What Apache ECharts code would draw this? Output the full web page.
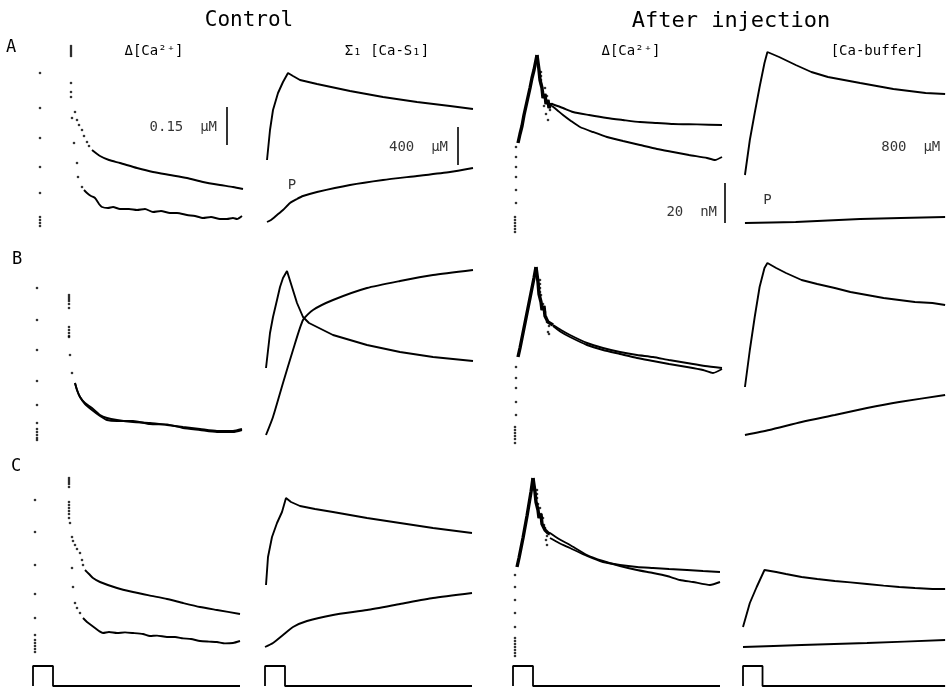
<!DOCTYPE html>
<html>
<head>
<meta charset="utf-8">
<title>Ca transients: control and after buffer injection</title>
<script src="https://cdn.jsdelivr.net/npm/echarts@6/dist/echarts.min.js"></script>
<style>
  html, body { margin: 0; padding: 0; background: #fff; }
  #chart { width: 950px; height: 687px; }
</style>
</head>
<body>
<div id="chart"></div>
<script>
// ---- labels ----
const columnTitles = ['Control', 'After injection'];
const rowLabels = ['A', 'B', 'C'];
const panelTitles = ['Δ[Ca²⁺]', 'Σ₁ [Ca-S₁]', 'Δ[Ca²⁺]', '[Ca-buffer]'];
const scaleLabels = ['0.15  μM', '400  μM', '20  nM', '800  μM'];
const traceLabel = 'P';

// ---- data: [time (ms), signal (% of panel range)] ----
// Row A, control, free Ca
const caCtrlA_dots = [[3.5,78.5],[3.5,61],[3.5,46],[3.5,31.5],[3.5,18.5],[3.5,6.5],[3.5,5],[3.5,3.5],[3.5,2],
  [19,92],[19,91],[19,90],[19,89],[19,88],[19,87],[19,73.5],[19,69],[19,66.5],[19.5,56],[21,59],
  [22,55],[23,52.5],[24.5,50],[25.5,47],[27,44],[28,42],
  [20.5,43.5],[22,33.5],[22.5,26.5],[24.5,21.5]];
const caCtrlA_upper = [[29.5,40],[33.5,37],[38,35],[43.5,33.5],[52,31],[60,29],[68.5,27.5],[77,26],[85,24],[93.5,22.5],[100,21.5],[105,20.5]];
const caCtrlA_lower = [[25.5,20],[27,18.5],[29,17],[31,16],[33,13],[34.5,11.5],[37.5,11],[40,11.5],[43.5,10.5],[48,10.5],[52,10],[56,10.5],[60,9],[64,9.5],[68.5,8.5],[72,8.5],[77,7.5],[81,7],[85,6],[89,6.5],[93.5,5.5],[97,5.5],[100,6],[102,5.5],[104.5,7]];
// Row A, control, Ca bound to S1
const caSCtrlA_total = [[1,35],[2.5,50],[4,60],[6.5,68.5],[9,74],[11.5,78.5],[14,77],[17.5,75],[26,73],[42.5,69.5],[59,66.5],[76,64],[92.5,62],[104,60.5]];
const caSCtrlA_P = [[1,4],[3,5],[6,7.5],[9,10],[12.5,13.5],[16,15.5],[19,17],[26,19],[42.5,22.5],[59,25],[76,27],[92.5,29],[104,31]];
// Row A, after injection, free Ca
const caInjA_dots = [[1,6.5],[1,5],[1,3.5],[1,2],[1,0.5],[1,-1],[1.5,13.5],[1.5,20],[1.5,26.5],[1.5,31.5],[1.5,36.5],[1.5,41.5],
  [14,79],[14,77],[14,75],[14,73],[15,69],[16,66],[17.5,64],[18.5,60],[17.5,55],[16.5,58],[15.5,62],[17,67],[18,63.5],[16,71]];
const caInjA_rise = [[2.5,43.5],[3.5,48],[4.5,52],[5.5,57.5],[6.5,62],[7.5,66.5],[8.5,71],[9.5,76],[10.5,80],[11.5,85],[12,87.5]];
const caInjA_cluster = [[12,87.5],[13,80],[13.5,75],[14.5,71],[15,66],[16,68],[16.5,63],[17.5,65],[18,61],[19,63],[19.5,62.5]];
const caInjA_upper = [[19.5,63],[25,61],[30,59],[38,57.5],[47,56],[55,55],[63.5,54],[72,53.5],[80,53],[92,52.8],[104.5,52.5]];
const caInjA_lower = [[19.5,62],[22,60],[25,57.5],[29,54.5],[33.5,51.5],[40,49],[47,46.5],[55,44.5],[63.5,42.5],[72,40.5],[80,39],[88,37.5],[97,36],[101,35],[104.5,36.5]];
// Row A, after injection, Ca-buffer
const bufA_total = [[1,27.5],[3.5,45],[6,58.5],[8.5,71.5],[11,83.5],[12.5,89],[18.5,86.5],[27,82.5],[35,79],[43.5,76.5],[60,73.5],[77,70.5],[93.5,68.5],[103.5,68]];
const bufA_P = [[1,3.5],[27,4],[60,5.5],[103.5,6.5]];

// Row B
const caCtrlB_dots = [[2,81],[2,65],[2,50],[2,34.5],[2,22.5],[2,13.5],[2,10.5],[2,9],[2,7.5],[2,6],[2,5],
  [18,77.5],[18,76.5],[18,75.5],[18,74.5],[18,73],[18,71],[18,61.5],[18,60],[18,58.5],[18,57],[18,56.5],[18.5,47.5],[19.5,38.5]];
const caCtrlB_fit = [[21,33.5],[22,30],[23.5,26.5],[26,23.5],[29.5,21],[33.5,17.5],[37,16],[42,15],[50,14],[58.5,13.5],[67,12.5],[75,11.5],[83.5,10.5],[92,9.5],[100,9.5],[104.5,10.5]];
const caCtrlB_meas = [[21,33.5],[22,30],[23.5,26.5],[26,23],[29.5,20],[33.5,17],[37,15],[42,14.5],[50,14.5],[58.5,13],[67,12.8],[75,11],[83.5,10],[92,9],[100,9],[104.5,10]];
const caSCtrlB_total = [[0.5,41],[2.5,58.5],[4,66.5],[6,75],[7.5,81.5],[9,86],[11,89.5],[13.5,81.5],[16,73.5],[19,66.5],[22,63.5],[26,61.5],[34,57.5],[51,52.5],[67.5,49],[84,46.5],[104,44.5]];
const caSCtrlB_P = [[0.5,7.5],[4,16.5],[9,33.5],[14,50],[19,65],[24,70],[34,75],[51,81],[67.5,84.5],[84,87.5],[104,90]];
const caInjB_dots = [[1,11.5],[1,10],[1,8.5],[1,7],[1,5.5],[1,3.5],[1.5,17.5],[1.5,24],[1.5,31],[1.5,36],[1.5,41.5],
  [13.5,85],[13.5,83],[13.5,81],[13.5,79],[14,77.5],[16,69],[17,64],[17.5,59],[18,58],[15,73],[16.5,66.5],[18,62]];
const caInjB_rise = [[2.5,46.5],[3.5,51],[4.5,56],[5.5,61],[6.5,66],[7.5,71],[8.5,76],[9.5,81],[10.5,86],[11.5,91.5]];
const caInjB_cluster = [[11.5,91.5],[12.5,84],[13,78],[14,74],[14.5,70],[15.5,72],[16,67],[17,68],[17.5,64],[18.5,65],[20,62.5]];
const caInjB_upper = [[20,62.5],[24,60],[28.5,57.5],[37,53.5],[45,51],[53.5,49],[62,47.5],[70,46.5],[78,45],[87,43.5],[96,42],[104.5,41]];
const caInjB_lower = [[20,62],[24,59],[28.5,56.5],[37,52.5],[45,50],[53.5,48],[62,46],[70,44.5],[78,43],[87,41.5],[95,40],[100,38.5],[104.5,40.5]];
const bufB_total = [[1,31.5],[3.5,50],[6,66.5],[8.5,81.5],[11,91],[12.5,93.5],[17,91],[22,88.5],[30,85],[38,83],[47,81],[55,79],[63.5,77.5],[72,76],[80,75],[88,74],[97,73.5],[103.5,72.5]];
const bufB_P = [[1,7.5],[13.5,10],[30,14],[47,17.5],[63.5,21],[80,24],[103.5,27.5]];

// Row C
const caCtrlC_dots = [[1,80],[1,64],[1,47.5],[1,33],[1,21],[1,12.5],[1,10],[1,8.5],[1,7],[1,5.5],[1,4],
  [18,91],[18,90],[18,89],[18,88],[18,86.5],[18,79],[18,77.5],[18,76],[18,74.5],[18,73],[18,71],[18.5,68.5],
  [19.5,61.5],[20,59.5],[21,57.5],[22,55.5],[23.5,53.5],[24.5,50],[25,47.5],
  [19.5,46],[20,36.5],[21,28.5],[22,26],[23.5,23.5]];
const caCtrlC_upper = [[26,45],[28,43],[30,41],[33.5,39],[42,36],[50,34],[58,32.3],[67,30.5],[75,28.5],[83.5,26.5],[92,25],[103.5,23]];
const caCtrlC_lower = [[25,21],[27,19],[29,17.5],[31,16],[33,14.5],[35,13.5],[38,14],[42,13.5],[46,13.8],[50,13.5],[55,13],[58.5,12],[62,12.2],[67,11.5],[71,11.5],[75,10.8],[79,10.5],[83.5,9.5],[88,9.2],[92,9],[96,8.3],[100,8.5],[103.5,9.5]];
const caSCtrlC_total = [[0.5,37.5],[1.5,51.5],[3.5,61.5],[6,68.5],[8.5,74],[10.5,81],[13,79],[17.5,77],[25,75.5],[34,74],[51,71],[67.5,68.5],[84,66],[103.5,63.5]];
const caSCtrlC_P = [[0,6.5],[4,8.5],[9,12.5],[14,16.5],[21,19.5],[34,22.5],[51,25],[67.5,28],[84,31],[103.5,33.5]];
const caInjC_dots = [[1,11],[1,9.5],[1,8],[1,6.5],[1,5],[1,3.5],[1,2],[1,16.5],[1,23.5],[1,30],[1,36.5],[1,42.5],
  [12,85],[12,83],[12,81],[12.5,78],[14,73],[15,71],[16,66],[17,62],[16.5,60],[17,57.5],[13.5,76],[15.5,67.5]];
const caInjC_rise = [[2,46.5],[3,51],[4,56],[5,61],[6,66.5],[7,72],[8,78],[9,84],[10,91]];
const caInjC_cluster = [[10,91],[11,84],[11.5,79],[12.5,75],[13,71],[14,73],[14.5,68],[15.5,69],[16,65],[17,66],[17.5,63.5],[18.5,63]];
const caInjC_upper = [[18.5,63.5],[23,60.5],[28.5,57.5],[37,52.5],[45,49.5],[53.5,47],[62,45],[70,43.5],[77,42],[83.5,40],[90,39],[98.5,37.5],[103.5,39]];
const caInjC_lower = [[18.5,61],[23,58.5],[28.5,56],[37,52],[45,49],[53.5,47.5],[62,46.5],[70,46],[78,45.5],[87,45],[95,44.5],[103.5,44]];
const bufC_total = [[0,16.5],[3.5,28.5],[7,36.5],[11,45],[12,45.5],[17,44],[22,43],[30,41.5],[38,40.5],[47,39.5],[55,38.8],[63.5,38],[72,37.2],[80,36.5],[88,36],[97,35.5],[103.5,35.5]];
const bufC_P = [[0,6.5],[30,7.5],[63.5,8.5],[103.5,10]];

// Stimulus pulse (same protocol in every column)
const stimTime = [0, 0, 10, 10, 103.5];
const stimLevel = [0, 1, 1, 0, 0];

// ---- which traces go in which panel ----
// lines: smooth decays; peaked: traces with a sharp corner at the peak
const panels = [
  { row: 0, col: 0, dots: caCtrlA_dots, lines: [caCtrlA_upper, caCtrlA_lower] },
  { row: 0, col: 1, peaked: [caSCtrlA_total], lines: [caSCtrlA_P] },
  { row: 0, col: 2, dots: caInjA_dots, thick: [caInjA_rise, caInjA_cluster], lines: [caInjA_upper, caInjA_lower] },
  { row: 0, col: 3, peaked: [bufA_total], lines: [bufA_P] },
  { row: 1, col: 0, dots: caCtrlB_dots, lines: [caCtrlB_fit, caCtrlB_meas] },
  { row: 1, col: 1, peaked: [caSCtrlB_total], lines: [caSCtrlB_P] },
  { row: 1, col: 2, dots: caInjB_dots, thick: [caInjB_rise, caInjB_cluster], lines: [caInjB_upper, caInjB_lower] },
  { row: 1, col: 3, peaked: [bufB_total], lines: [bufB_P] },
  { row: 2, col: 0, dots: caCtrlC_dots, lines: [caCtrlC_upper, caCtrlC_lower] },
  { row: 2, col: 1, peaked: [caSCtrlC_total], lines: [caSCtrlC_P] },
  { row: 2, col: 2, dots: caInjC_dots, thick: [caInjC_rise, caInjC_cluster], lines: [caInjC_upper, caInjC_lower] },
  { row: 2, col: 3, peaked: [bufC_total], lines: [bufC_P] }
];

// ---- layout ----
const INK = '#000';
const MONO = '"DejaVu Sans Mono", "Liberation Mono", monospace';
const COL_LEFT = [33, 265, 513, 743];
const ROW_BOTTOM = [230, 450, 660];
const PANEL_W = 212, PANEL_H = 200, T_MAX = 106, V_MAX = 100;
const STIM_TOP = 656, STIM_H = 30, STIM_MAX = 1.5;

// scale bars (row A) and the 'P' annotations, in each panel's data units
const scaleBarPos = [
  { col: 0, t: 97,   v0: 42.5, v1: 61.5, lt: 92,  lv: 51.5 },
  { col: 1, t: 96.5, v0: 32.5, v1: 51.5, lt: 91.5, lv: 41.5 },
  { col: 2, t: 106,  v0: 3.5,  v1: 23.5, lt: 102, lv: 9 },
  { col: 3, t: 107,  v0: 31.5, v1: 51.5, lt: 101, lv: 41.5 }
];
const pLabelPos = [ { col: 1, t: 13.5, v: 22.5 }, { col: 3, t: 12.5, v: 15 } ];

const grid = [], xAxis = [], yAxis = [], series = [];
const hiddenAxis = (min, max, gi) => ({ type: 'value', min, max, show: false, gridIndex: gi });

// trace grids: index = row*4 + col
for (let r = 0; r < 3; r++) {
  for (let c = 0; c < 4; c++) {
    const gi = grid.length;
    grid.push({ left: COL_LEFT[c], top: ROW_BOTTOM[r] - PANEL_H, width: PANEL_W, height: PANEL_H });
    xAxis.push(hiddenAxis(0, T_MAX, gi));
    yAxis.push(hiddenAxis(0, V_MAX, gi));
  }
}
// stimulus grids
for (let c = 0; c < 4; c++) {
  const gi = grid.length;
  grid.push({ left: COL_LEFT[c], top: STIM_TOP, width: PANEL_W, height: STIM_H });
  xAxis.push(hiddenAxis(0, T_MAX, gi));
  yAxis.push(hiddenAxis(0, STIM_MAX, gi));
}

const base = gi => ({ xAxisIndex: gi, yAxisIndex: gi, clip: false, silent: true, animation: false });
const lineSeries = (gi, data, width, smooth) => Object.assign(base(gi), {
  type: 'line', data, symbol: 'none', smooth: smooth, lineStyle: { color: INK, width: width }
});
const dotSeries = (gi, data, size) => Object.assign(base(gi), {
  type: 'scatter', data, symbolSize: size, itemStyle: { color: INK }
});

panels.forEach(p => {
  const gi = p.row * 4 + p.col;
  (p.lines || []).forEach(d => series.push(lineSeries(gi, d, 1.9, 0.2)));
  (p.peaked || []).forEach(d => series.push(lineSeries(gi, d, 1.9, false)));
  (p.thick || []).forEach(d => series.push(lineSeries(gi, d, 3.4, false)));
  if (p.dots) series.push(dotSeries(gi, p.dots, 2.6));
});

// stimulus pulses
for (let c = 0; c < 4; c++) {
  const gi = 12 + c;
  series.push(lineSeries(gi, stimTime.map((t, i) => [t, stimLevel[i]]), 1.8, false));
}

// scale bars with their labels
scaleBarPos.forEach((s, i) => {
  const gi = s.col;
  series.push(lineSeries(gi, [[s.t, s.v0], [s.t, s.v1]], 1.6, false));
  series.push(Object.assign(base(gi), {
    type: 'scatter', data: [[s.lt, s.lv]], symbolSize: 0,
    label: { show: true, position: 'left', distance: 0, formatter: scaleLabels[i],
             color: INK, fontFamily: MONO, fontSize: 14 }
  }));
});
pLabelPos.forEach(p => {
  series.push(Object.assign(base(p.col), {
    type: 'scatter', data: [[p.t, p.v]], symbolSize: 0,
    label: { show: true, position: 'inside', formatter: traceLabel, color: INK, fontFamily: MONO, fontSize: 14 }
  }));
});

// headings
const text = (str, x, y, size) => ({
  type: 'text', x, y, silent: true,
  style: { text: str, font: size + 'px ' + MONO, fill: INK, align: 'center', verticalAlign: 'middle' }
});
const graphic = [
  text(columnTitles[0], 249, 21, 21),
  text(columnTitles[1], 731, 21, 22),
  text(rowLabels[0], 11, 48, 17),
  text(rowLabels[1], 17, 260, 17),
  text(rowLabels[2], 16, 467, 17),
  text(panelTitles[0], 154, 51, 14),
  text(panelTitles[1], 387, 51, 14),
  text(panelTitles[2], 631, 51, 14),
  text(panelTitles[3], 877, 51, 14)
];

const chart = echarts.init(document.getElementById('chart'), null, { renderer: 'canvas' });
chart.setOption({
  backgroundColor: '#fff',
  animation: false,
  grid, xAxis, yAxis, series, graphic
});
</script>
</body>
</html>
